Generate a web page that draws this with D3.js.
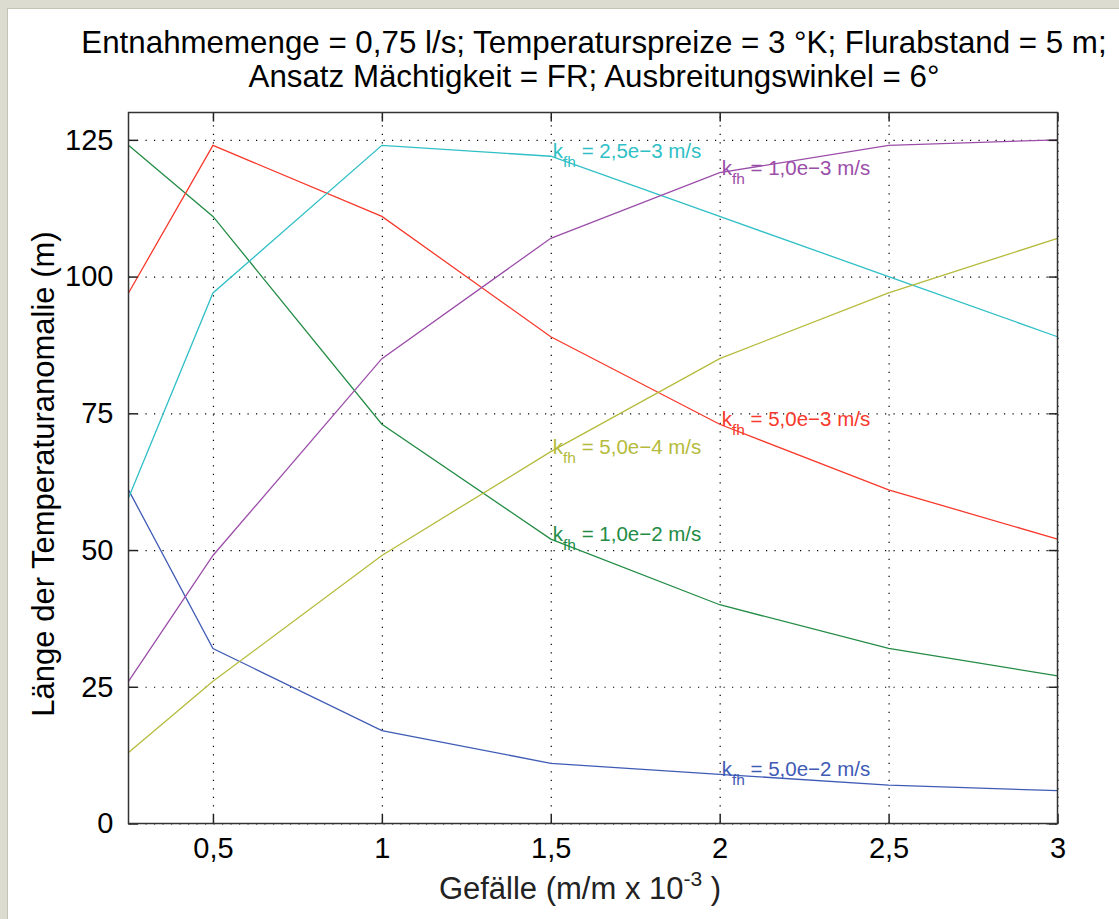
<!DOCTYPE html>
<html>
<head>
<meta charset="utf-8">
<script src="https://cdnjs.cloudflare.com/ajax/libs/d3/7.8.5/d3.min.js"></script>
<style>
  body { margin: 0; background: #dcdcd0; }
  text { font-family: 'Liberation Sans', Arial, sans-serif; }
</style>
</head>
<body>
<div id="svg"></div>
<script>
let w = 1119;
let h = 919;
let plotLeft = 128.5, plotRight = 1057.5, plotTop = 112.5, plotBottom = 823.5;

// Gefälle (m/m x 10^-3)
let gefaelle = [0.25, 0.5, 1, 1.5, 2, 2.5, 3];
// Länge der Temperaturanomalie (m) per kf value
let kf5e2 = [61, 32, 17, 11, 9, 7, 6];
let kf1e2 = [124, 111, 73, 52, 40, 32, 27];
let kf5e3 = [97, 124, 111, 89, 73, 61, 52];
let kf25e3 = [59.5, 97, 124, 122, 111, 100, 89];
let kf1e3 = [26, 49, 85, 107, 119, 124, 125];
let kf5e4 = [13, 26, 49, 68, 85, 97, 107];

let xTicks = [0.5, 1, 1.5, 2, 2.5, 3];
let yTicks = [0, 25, 50, 75, 100, 125];

let series = [
  {label: ' = 5,0e\u22122 m/s', values: kf5e2, color: '#3f5bb5', at: 2},
  {label: ' = 1,0e\u22122 m/s', values: kf1e2, color: '#238c45', at: 1.5},
  {label: ' = 5,0e\u22123 m/s', values: kf5e3, color: '#f7392c', at: 2},
  {label: ' = 2,5e\u22123 m/s', values: kf25e3, color: '#2fbfc6', at: 1.5},
  {label: ' = 1,0e\u22123 m/s', values: kf1e3, color: '#9b4ea8', at: 2},
  {label: ' = 5,0e\u22124 m/s', values: kf5e4, color: '#b5bb3c', at: 1.5}
];

let svg = d3.select('#svg')
  .append('svg')
  .attr('width', w)
  .attr('height', h);

// white figure panel inside the grey window frame
svg.append('rect')
  .attr('x', 7.5).attr('y', 8.5)
  .attr('width', w).attr('height', h)
  .style('fill', '#fff')
  .style('stroke', '#c4c4b4');

let xScale = d3.scaleLinear()
  .domain([0.25, 3])
  .range([plotLeft, plotRight]);

let yScale = d3.scaleLinear()
  .domain([0, 130])
  .range([plotBottom, plotTop]);

let fmt = (d) => String(d).replace('.', ',');

// dotted grid
svg.append('g')
  .attr('class', 'grid')
  .attr('transform', 'translate(0,' + plotBottom + ')')
  .call(d3.axisBottom(xScale).tickValues(xTicks).tickSize(-(plotBottom - plotTop)).tickFormat(''));
svg.append('g')
  .attr('class', 'grid')
  .attr('transform', 'translate(' + plotLeft + ',0)')
  .call(d3.axisLeft(yScale).tickValues(yTicks).tickSize(-(plotRight - plotLeft)).tickFormat(''));
svg.selectAll('.grid .domain').remove();
svg.selectAll('.grid line')
  .style('stroke', '#000')
  .style('stroke-width', 1.2)
  .style('stroke-dasharray', '1.2,7.3');

// lines
let line = d3.line()
  .x((d, i) => xScale(gefaelle[i]))
  .y((d) => yScale(d));

svg.selectAll('.serie')
  .data(series)
  .enter()
  .append('path')
  .attr('class', 'serie')
  .attr('d', (d) => line(d.values))
  .style('fill', 'none')
  .style('stroke', (d) => d.color)
  .style('stroke-width', 1.3);

// line labels
let lbl = svg.selectAll('.lbl')
  .data(series)
  .enter()
  .append('text')
  .attr('class', 'lbl')
  .attr('x', (d) => xScale(d.at) + 2)
  .attr('y', (d) => yScale(d.values[gefaelle.indexOf(d.at)]) + 2)
  .style('fill', (d) => d.color)
  .style('font-size', '20.5px');
lbl.append('tspan').text('k');
lbl.append('tspan').text('fh').attr('dy', 9).style('font-size', '15.5px');
lbl.append('tspan').text((d) => d.label).attr('dy', -9);

// axes with inward ticks on all sides
svg.append('g')
  .attr('transform', 'translate(0,' + plotBottom + ')')
  .call(d3.axisBottom(xScale).tickValues(xTicks).tickSize(-9).tickPadding(14).tickFormat(fmt));
svg.append('g')
  .attr('transform', 'translate(0,' + plotTop + ')')
  .call(d3.axisTop(xScale).tickValues(xTicks).tickSize(-9).tickFormat(''));
svg.append('g')
  .attr('transform', 'translate(' + plotLeft + ',0)')
  .call(d3.axisLeft(yScale).tickValues(yTicks).tickSize(-9).tickPadding(15).tickFormat(fmt));
svg.append('g')
  .attr('transform', 'translate(' + plotRight + ',0)')
  .call(d3.axisRight(yScale).tickValues(yTicks).tickSize(-9).tickFormat(''));

svg.selectAll('.domain').remove();
svg.selectAll('.tick line').filter(function() { return !this.closest('.grid'); })
  .style('stroke', '#222')
  .style('stroke-width', 1.5);
svg.selectAll('.tick text')
  .style('font-size', '29px')
  .style('fill', '#000');

svg.append('rect')
  .attr('x', plotLeft).attr('y', plotTop)
  .attr('width', plotRight - plotLeft)
  .attr('height', plotBottom - plotTop)
  .style('fill', 'none')
  .style('stroke', '#333')
  .style('stroke-width', 1.5);

// title
let cx = (plotLeft + plotRight) / 2;
svg.append('text')
  .text('Entnahmemenge = 0,75 l/s; Temperaturspreize = 3 °K; Flurabstand = 5 m;')
  .attr('x', cx + 1).attr('y', 53)
  .attr('text-anchor', 'middle')
  .style('font-size', '31.3px');
svg.append('text')
  .text('Ansatz Mächtigkeit = FR; Ausbreitungswinkel = 6°')
  .attr('x', cx + 1).attr('y', 87)
  .attr('text-anchor', 'middle')
  .style('font-size', '31.3px');

// axis labels
let xl = svg.append('text')
  .attr('x', 580).attr('y', 899)
  .attr('text-anchor', 'middle')
  .style('font-size', '31px')
  .style('fill', '#222');
xl.append('tspan').text('Gefälle (m/m x 10');
xl.append('tspan').text('-3').attr('dy', -13).style('font-size', '21px');
xl.append('tspan').text(' )').attr('dy', 13);

svg.append('text')
  .text('Länge der Temperaturanomalie (m)')
  .attr('transform', 'translate(54,' + 474 + ') rotate(-90)')
  .attr('text-anchor', 'middle')
  .style('font-size', '31px')
  .style('fill', '#000');
</script>
</body>
</html>
